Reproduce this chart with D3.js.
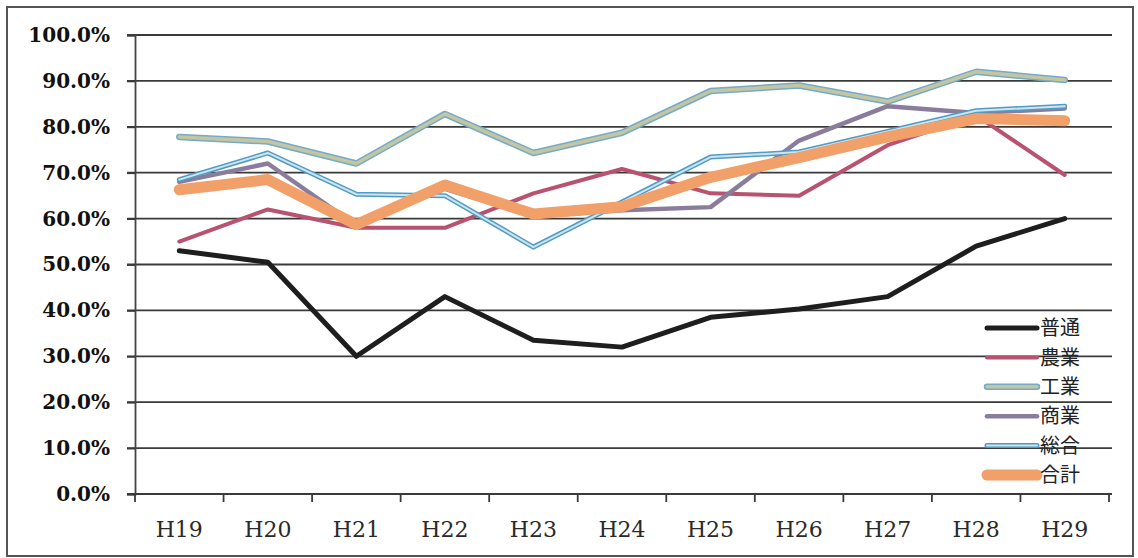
<!DOCTYPE html>
<html>
<head>
<meta charset="utf-8">
<script src="https://cdn.jsdelivr.net/npm/d3@7/dist/d3.min.js"></script>
<style>
  body { margin: 0; background: #fff; }
  svg { display: block; }
</style>
</head>
<body>
<div id="chartArea"><svg id="chart"></svg></div>
<script>
// data (percent)
const categories = ['H19', 'H20', 'H21', 'H22', 'H23', 'H24', 'H25', 'H26', 'H27', 'H28', 'H29'];
const futsu  = [53, 50.5, 30, 43, 33.5, 32, 38.5, 40.3, 43, 54, 60];
const nogyo  = [55, 62, 58, 58, 65.5, 70.8, 65.5, 65, 76, 82.5, 69.5];
const kogyo  = [77.8, 76.8, 72, 82.8, 74.3, 78.7, 87.8, 89, 85.5, 92, 90.2];
const shogyo = [68, 72, 58.5, 66.5, 60.5, 61.8, 62.5, 77, 84.5, 83, 84];
const sogo   = [68.5, 74.3, 65.3, 65, 53.8, 63.6, 73.4, 74.5, 79, 83.5, 84.5];
const gokei  = [66.3, 68.5, 58.7, 67.3, 61, 62.6, 69, 73.3, 77.8, 81.8, 81.3];
const yTicks = [0, 10, 20, 30, 40, 50, 60, 70, 80, 90, 100];

const series = [
  { name: '普通', values: futsu,  color: '#1e1e1e', width: 5 },
  { name: '農業', values: nogyo,  color: '#b9526f', width: 4 },
  { name: '工業', values: kogyo,  color: '#c4c6a2', width: 3.5, edge: '#74abc9' },
  { name: '商業', values: shogyo, color: '#8a7d9c', width: 4.5 },
  { name: '総合', values: sogo,   color: '#cfe4ec', width: 2, edge: '#4f9cc6' },
  { name: '合計', values: gokei,  color: '#f2a06a', width: 11 }
];

const width = 1138, height = 558;
const margin = { top: 35, left: 135, bottom: 64, right: 29 };
const iwidth = width - margin.left - margin.right;
const iheight = height - margin.top - margin.bottom;

const svg = d3.select('#chart').attr('width', width).attr('height', height);

// outer frame
svg.append('rect')
  .attr('x', 7).attr('y', 7)
  .attr('width', 1126).attr('height', 549)
  .attr('fill', 'none').attr('stroke', '#555').attr('stroke-width', 2);

const g = svg.append('g').attr('transform', `translate(${margin.left},${margin.top})`);

const x = d3.scaleBand().domain(categories).range([0, iwidth]).padding(0);
const y = d3.scaleLinear().domain([0, 100]).range([iheight, 0]);
const cx = (i) => x(categories[i]) + x.bandwidth() / 2;

// gridlines
g.selectAll('line.grid').data(yTicks).enter().append('line')
  .attr('class', 'grid')
  .attr('x1', -8).attr('x2', iwidth + 3)
  .attr('y1', (d) => y(d)).attr('y2', (d) => y(d))
  .attr('stroke', '#3a3a3a').attr('stroke-width', 1.8);

// y axis
const yAxis = g.append('g').call(
  d3.axisLeft(y).tickValues(yTicks).tickSize(8).tickFormat((d) => d3.format('.1f')(d) + '%')
);
yAxis.select('.domain').attr('stroke', '#444').attr('stroke-width', 1.8);
yAxis.selectAll('.tick line').attr('stroke', '#3a3a3a').attr('stroke-width', 1.8);
yAxis.selectAll('.tick text')
  .attr('x', -25)
  .attr('font-family', 'DejaVu Serif')
  .attr('font-weight', 'bold')
  .attr('font-size', 20)
  .attr('fill', '#111');

// x axis, ticks on category boundaries
const xAxis = g.append('g').attr('transform', `translate(0,${iheight})`);
xAxis.append('line').attr('x1', -8).attr('x2', iwidth + 3)
  .attr('stroke', '#3a3a3a').attr('stroke-width', 1.8);
xAxis.selectAll('line.tk').data(categories.concat(['end'])).enter().append('line')
  .attr('class', 'tk')
  .attr('x1', (d, i) => i * x.bandwidth()).attr('x2', (d, i) => i * x.bandwidth())
  .attr('y1', 0).attr('y2', 8)
  .attr('stroke', '#3a3a3a').attr('stroke-width', 1.8);
xAxis.selectAll('text').data(categories).enter().append('text')
  .attr('x', (d) => x(d) + x.bandwidth() / 2)
  .attr('y', 43)
  .attr('text-anchor', 'middle')
  .attr('font-family', 'DejaVu Serif')
  .attr('font-size', 22)
  .attr('fill', '#2a2a2a')
  .text((d) => d);

// lines
const line = d3.line().x((d, i) => cx(i)).y((d) => y(d));
series.forEach((s) => {
  if (s.edge) {
    g.append('path').datum(s.values).attr('d', line)
      .attr('fill', 'none').attr('stroke', s.edge).attr('stroke-width', s.width + 3)
      .attr('stroke-linejoin', 'round').attr('stroke-linecap', 'round');
  }
  g.append('path').datum(s.values).attr('d', line)
    .attr('fill', 'none').attr('stroke', s.color).attr('stroke-width', s.width)
    .attr('stroke-linejoin', 'round').attr('stroke-linecap', 'round');
});

// legend
const legend = svg.append('g').attr('transform', 'translate(987,328)');
series.forEach((s, i) => {
  const row = legend.append('g').attr('transform', `translate(0,${i * 29.4})`);
  if (s.edge) {
    row.append('line').attr('x1', 0).attr('x2', 50)
      .attr('stroke', s.edge).attr('stroke-width', s.width + 3).attr('stroke-linecap', 'round');
  }
  row.append('line').attr('x1', 0).attr('x2', 50)
    .attr('stroke', s.color).attr('stroke-width', s.width).attr('stroke-linecap', 'round');
  row.append('text').attr('x', 53).attr('dy', '0.36em')
    .attr('font-family', 'Noto Sans CJK JP')
    .attr('font-size', 20)
    .attr('fill', '#222')
    .text(s.name);
});
</script>
</body>
</html>
